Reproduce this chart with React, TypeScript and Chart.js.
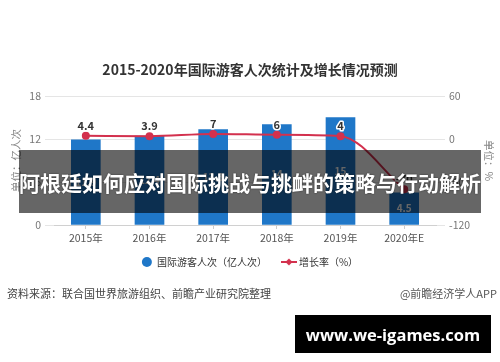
import React, { useEffect, useRef } from 'react';
import { Chart, registerables } from 'chart.js';

Chart.register(...registerables);

const categories = ['2015年', '2016年', '2017年', '2018年', '2019年', '2020年E'];
const visitors = [11.9, 12.4, 13.3, 14, 15, 4.5];
const growth = [4.4, 3.9, 7, 6, 4, -70];
const leftTicks = { min: 0, max: 18, step: 6 };
const rightTicks = { min: -120, max: 60, step: 60 };

const BLUE = '#1f77c8';
const RED = '#d3314e';
const FONT = '"Noto Sans CJK SC", "Noto Sans", sans-serif';

export default function App() {
  const ref = useRef<HTMLCanvasElement>(null);

  useEffect(() => {
    const canvas = ref.current!;

    const lineMarker = document.createElement('canvas');
    lineMarker.width = 16;
    lineMarker.height = 8;
    const m = lineMarker.getContext('2d')!;
    m.strokeStyle = RED;
    m.lineWidth = 2;
    m.beginPath();
    m.moveTo(0, 4);
    m.lineTo(16, 4);
    m.stroke();
    m.fillStyle = RED;
    m.beginPath();
    m.moveTo(8, 0.5);
    m.lineTo(11.5, 4);
    m.lineTo(8, 7.5);
    m.lineTo(4.5, 4);
    m.closePath();
    m.fill();

    const labelPlugin = {
      id: 'valueLabels',
      afterDatasetsDraw(chart: any) {
        const ctx = chart.ctx as CanvasRenderingContext2D;
        ctx.save();
        ctx.textAlign = 'center';
        ctx.textBaseline = 'middle';
        const barMeta = chart.getDatasetMeta(0);
        ctx.font = `bold 10px ${FONT}`;
        ctx.fillStyle = '#ffffff';
        barMeta.data.forEach((el: any, i: number) => {
          const p = el.getProps(['x', 'y', 'base'], true);
          ctx.fillText(String(visitors[i]), p.x, (p.y + p.base) / 2);
        });
        const lineMeta = chart.getDatasetMeta(1);
        ctx.font = `bold 11px ${FONT}`;
        ctx.lineWidth = 3;
        ctx.lineJoin = 'round';
        ctx.strokeStyle = '#ffffff';
        ctx.fillStyle = '#333333';
        lineMeta.data.forEach((el: any, i: number) => {
          const p = el.getProps(['x', 'y'], true);
          ctx.strokeText(String(growth[i]), p.x, p.y - 10);
          ctx.fillText(String(growth[i]), p.x, p.y - 10);
        });
        ctx.restore();
      },
    };

    const chart = new Chart(canvas, {
      type: 'bar',
      data: {
        labels: categories,
        datasets: [
          {
            type: 'bar',
            label: '国际游客人次（亿人次）',
            data: visitors,
            backgroundColor: BLUE,
            yAxisID: 'y',
            order: 2,
            barThickness: 29,
          } as any,
          {
            type: 'line',
            label: '增长率（%）',
            data: growth,
            borderColor: RED,
            backgroundColor: RED,
            borderWidth: 2,
            pointRadius: 4,
            pointBorderWidth: 0,
            pointBackgroundColor: RED,
            yAxisID: 'y1',
            order: 1,
            cubicInterpolationMode: 'monotone',
          } as any,
        ],
      },
      options: {
        responsive: false,
        animation: false,
        devicePixelRatio: 1,
        layout: { padding: { top: 0, left: 0, right: 0, bottom: 85 } },
        plugins: {
          title: {
            display: true,
            text: '2015-2020年国际游客人次统计及增长情况预测',
            color: '#333',
            font: { family: FONT, size: 14, weight: 'bold', lineHeight: 1.2 },
            padding: { top: 61.6, bottom: 17.6 },
          },
          legend: {
            display: true,
            position: 'bottom',
            labels: {
              usePointStyle: true,
              boxHeight: 7,
              pointStyleWidth: 10,
              padding: 12,
              color: '#333',
              font: { family: FONT, size: 10 },
              generateLabels: () => [
                {
                  text: '国际游客人次（亿人次）\u3000',
                  fillStyle: BLUE,
                  strokeStyle: BLUE,
                  lineWidth: 0,
                  pointStyle: 'circle',
                  datasetIndex: 0,
                  hidden: false,
                  fontColor: '#333',
                } as any,
                {
                  text: '增长率（%）',
                  fillStyle: RED,
                  strokeStyle: RED,
                  lineWidth: 0,
                  pointStyle: lineMarker,
                  datasetIndex: 1,
                  hidden: false,
                  fontColor: '#333',
                } as any,
              ],
            },
          },
          tooltip: { enabled: false },
        },
        scales: {
          x: {
            offset: true,
            grid: {
              display: true,
              drawOnChartArea: false,
              drawTicks: true,
              tickLength: 4,
              offset: false,
              color: '#cccccc',
            },
            border: { display: true, color: '#d0d0d0' },
            ticks: { color: '#555', font: { family: FONT, size: 10.5 }, padding: 3, maxRotation: 0 },
            afterFit(s: any) {
              s.height = 20;
            },
          },
          y: {
            position: 'left',
            min: leftTicks.min,
            max: leftTicks.max,
            ticks: { stepSize: leftTicks.step, color: '#777', font: { family: FONT, size: 10.5 }, padding: 4 },
            grid: { color: '#e5e5e5', tickLength: 9, tickColor: '#e5e5e5' },
            border: { display: false },
            title: {
              display: true,
              text: '单位：亿人次',
              color: '#888',
              font: { family: FONT, size: 10.5 },
              padding: { top: 10, bottom: 0 },
            },
            afterFit(s: any) {
              s.width = 54;
            },
          },
          y1: {
            position: 'right',
            min: rightTicks.min,
            max: rightTicks.max,
            ticks: { stepSize: rightTicks.step, color: '#777', font: { family: FONT, size: 10.5 }, padding: 4 },
            grid: { drawOnChartArea: false, color: '#e5e5e5', tickLength: 9, tickColor: '#e5e5e5' },
            border: { display: false },
            title: {
              display: true,
              text: '单位：%',
              color: '#888',
              font: { family: FONT, size: 10.5 },
              padding: { top: 5, bottom: 0 },
            },
            afterFit(s: any) {
              s.width = 64;
            },
          },
        },
      } as any,
      plugins: [labelPlugin],
    });

    return () => chart.destroy();
  }, []);

  return (
    <div
      style={{
        position: 'fixed',
        left: 0,
        top: 0,
        width: 500,
        height: 362,
        background: '#fff',
        overflow: 'hidden',
        fontFamily: FONT,
      }}
    >
      <canvas ref={ref} width={500} height={362} style={{ position: 'absolute', left: 0, top: 0 }} />
      <div
        style={{
          position: 'absolute',
          left: 19,
          top: 150,
          width: 462,
          height: 63,
          background: 'rgba(0,0,0,0.6)',
          color: '#fff',
          fontWeight: 'bold',
          fontSize: 21,
          display: 'flex',
          alignItems: 'center',
          justifyContent: 'center',
          whiteSpace: 'nowrap',
          textShadow: '0 0 2px rgba(0,0,0,0.6)',
        }}
      >
        阿根廷如何应对国际挑战与挑衅的策略与行动解析
      </div>
      <div
        style={{
          position: 'absolute',
          left: 7,
          top: 285,
          fontSize: 11,
          lineHeight: '16px',
          color: '#444',
          whiteSpace: 'nowrap',
        }}
      >
        资料来源：联合国世界旅游组织、前瞻产业研究院整理
      </div>
      <div
        style={{
          position: 'absolute',
          right: 3,
          top: 285,
          fontSize: 11,
          lineHeight: '16px',
          color: '#555',
          whiteSpace: 'nowrap',
        }}
      >
        @前瞻经济学人APP
      </div>
      <div
        style={{
          position: 'absolute',
          left: 295,
          top: 315,
          width: 196,
          height: 38,
          background: '#000',
          color: '#fff',
          fontFamily: '"Open Sans", "DejaVu Sans", sans-serif',
          fontWeight: 'bold',
          fontSize: 16.5,
          display: 'flex',
          alignItems: 'center',
          justifyContent: 'center',
          whiteSpace: 'nowrap',
        }}
      >
        www.we-igames.com
      </div>
    </div>
  );
}
